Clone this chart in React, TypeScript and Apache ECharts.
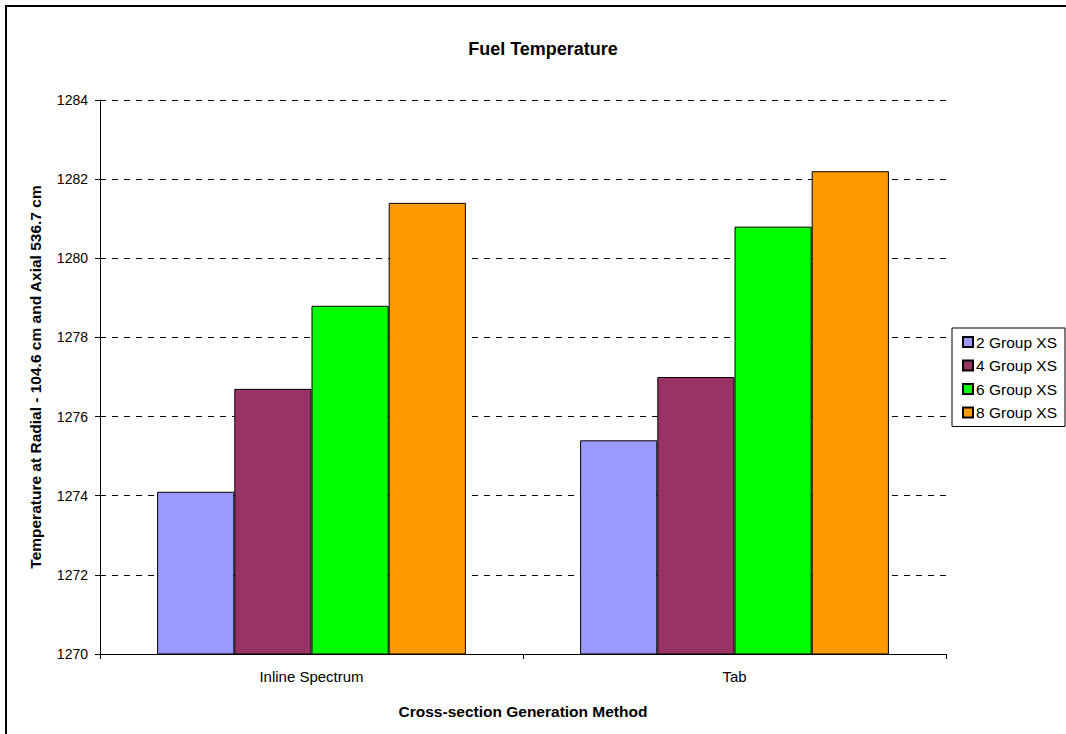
import React, { useEffect, useRef } from "react";
import * as echarts from "echarts";

const categories = ["Inline Spectrum", "Tab"];
const seriesNames = ["2 Group XS", "4 Group XS", "6 Group XS", "8 Group XS"];
const group2 = [1274.1, 1275.4];
const group4 = [1276.7, 1277.0];
const group6 = [1278.8, 1280.8];
const group8 = [1281.4, 1282.2];
const colors = ["#9999FF", "#993366", "#00FF00", "#FF9900"];

export default function App() {
  const ref = useRef<HTMLDivElement>(null);
  useEffect(() => {
    if (!ref.current) return;
    const chart = echarts.init(ref.current, null, { renderer: "svg" });
    const values = [group2, group4, group6, group8];
    const font = "Liberation Sans, Arial, sans-serif";
    chart.setOption({
      animation: false,
      textStyle: { fontFamily: font },
      title: {
        text: "Fuel Temperature",
        left: 538,
        top: 35,
        textAlign: "center",
        textStyle: { fontSize: 18, fontWeight: "bold", color: "#000", fontFamily: font },
      },
      legend: {
        orient: "vertical",
        left: 952,
        top: 328,
        padding: [6, 8, 6, 10],
        itemGap: 7.5,
        itemWidth: 10,
        itemHeight: 10,
        borderColor: "#000",
        borderWidth: 1,
        icon: "rect",
        textStyle: { fontSize: 15.5, color: "#000", fontFamily: font, padding: [0, 0, 0, -2] },
        data: seriesNames,
      },
      grid: { left: 100, right: 120, top: 100, bottom: 80, containLabel: false },
      xAxis: {
        type: "category",
        data: categories,
        name: "Cross-section Generation Method",
        nameLocation: "middle",
        nameGap: 49,
        nameTextStyle: { fontSize: 15.5, fontWeight: "bold", color: "#000", fontFamily: font },
        axisLine: { lineStyle: { color: "#000", width: 1 } },
        axisTick: { show: true, length: 5, lineStyle: { color: "#000" } },
        axisLabel: { fontSize: 15, color: "#000", margin: 15, fontFamily: font },
      },
      yAxis: {
        type: "value",
        min: 1270,
        max: 1284,
        interval: 2,
        name: "Temperature at Radial - 104.6 cm and Axial 536.7 cm",
        nameLocation: "middle",
        nameGap: 57,
        nameRotate: 90,
        nameTextStyle: { fontSize: 15.5, fontWeight: "bold", color: "#000", fontFamily: font },
        axisLine: { show: true, lineStyle: { color: "#000", width: 1 } },
        axisTick: { show: true, length: 5, lineStyle: { color: "#000" } },
        axisLabel: {
          fontSize: 14,
          color: "#000",
          margin: 12,
          fontFamily: font,
          formatter: (v: number) => String(v),
        },
        splitLine: { show: true, lineStyle: { color: "#000", type: [6, 6], width: 1 } },
      },
      series: seriesNames.map((name, i) => ({
        name,
        type: "bar",
        data: values[i],
        barGap: "0%",
        barCategoryGap: "27%",
        itemStyle: { color: colors[i], borderColor: "#000", borderWidth: 1 },
      })),
    });
    return () => chart.dispose();
  }, []);
  return (
    <div
      style={{ position: "absolute", left: 0, top: 0, width: 1066, height: 734, overflow: "hidden", background: "#fff" }}
    >
      <div
        style={{
          position: "absolute",
          left: 5,
          top: 5,
          width: 2000,
          height: 2000,
          borderLeft: "2px solid #000",
          borderTop: "2px solid #000",
        }}
      />
      <div ref={ref} style={{ position: "absolute", left: 0, top: 0, width: 1066, height: 734 }} />
    </div>
  );
}
